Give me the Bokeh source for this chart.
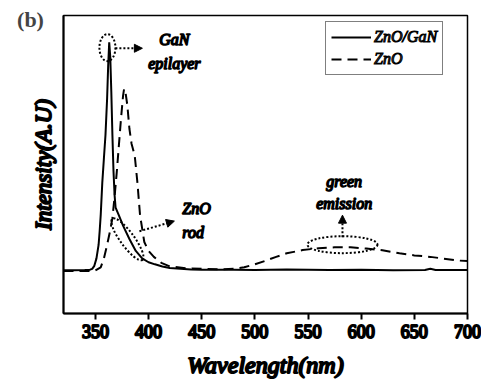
from bokeh.plotting import figure
from bokeh.models import (Range1d, FixedTicker, Legend, LegendItem, Label, Arrow,
                          NormalHead, ColumnDataSource)
from bokeh.core.properties import value
from bokeh.embed import file_html
from bokeh.resources import INLINE

# ---------------- data ----------------
zno_gan_wl = [320, 330, 340, 345, 347, 349, 351, 353, 354, 355, 356.5, 358, 359.5,
              361, 362, 363, 364, 365, 366, 367, 368, 369, 372, 376, 382, 388, 394,
              400, 406, 413, 420, 430, 440, 450, 480, 500, 530, 550, 570, 600, 630,
              660, 665, 670, 700]
zno_gan_int = [0.145, 0.145, 0.146, 0.147, 0.150, 0.160, 0.185, 0.23, 0.276, 0.33,
               0.44, 0.52, 0.60, 0.72, 0.83, 0.91, 0.86, 0.74, 0.60, 0.48, 0.40,
               0.355, 0.33, 0.295, 0.25, 0.21, 0.185, 0.172, 0.165, 0.158, 0.153,
               0.150, 0.148, 0.147, 0.147, 0.146, 0.148, 0.147, 0.146, 0.147, 0.145,
               0.146, 0.150, 0.146, 0.146]

zno_wl = [320, 330, 340, 345, 350, 355, 358, 361, 364, 366, 368, 370, 372, 374, 376,
          377, 378, 380, 382, 384, 387, 389.5, 392, 396, 400, 405, 412, 420, 435,
          450, 470, 480, 490, 500, 510, 520, 530, 545, 560, 575, 590, 605, 620, 636,
          650, 665, 676, 690, 700]
zno_int = [0.143, 0.143, 0.143, 0.143, 0.145, 0.155, 0.185, 0.23, 0.28, 0.32, 0.39,
           0.47, 0.56, 0.65, 0.73, 0.754, 0.75, 0.70, 0.62, 0.57, 0.53, 0.44, 0.33,
           0.24, 0.21, 0.19, 0.17, 0.158, 0.152, 0.150, 0.148, 0.150, 0.155, 0.165,
           0.177, 0.19, 0.202, 0.213, 0.219, 0.222, 0.222, 0.218, 0.212, 0.202,
           0.195, 0.19, 0.185, 0.178, 0.176]

x_ticks = [350, 400, 450, 500, 550, 600, 650, 700]
series_names = ["ZnO/GaN", "ZnO"]

ann_text = ["GaN", "epilayer", "ZnO", "rod", "green", "emission"]
ann_x = [424.3, 424.3, 431.8, 431.8, 584.0, 584.0]
ann_y = [0.919, 0.838, 0.354, 0.273, 0.444, 0.370]
ann_align = ["center", "center", "left", "left", "center", "center"]

ell_x = [361.3, 380.1, 582.4]
ell_y = [0.892, 0.249, 0.231]
ell_w = [16, 51, 70]
ell_h = [27, 14, 17]
ell_angle = [0.0, -0.94, 0.0]

arr_x0 = [368.8, 391.4, 582.4]
arr_y0 = [0.890, 0.276, 0.256]
arr_x1 = [394.2, 424.3, 582.4]
arr_y1 = [0.890, 0.310, 0.330]

ITAL = "Liberation Serif"   # serif face (italic / regular, thickened by outline)
BOLD = "serif"              # serif bold face


def try_set(obj, name, val):
    try:
        setattr(obj, name, val)
    except Exception:
        pass


p = figure(width=481, height=381, output_backend="svg", toolbar_location=None,
           x_range=Range1d(320, 700), y_range=Range1d(0, 1),
           min_border_left=61, min_border_right=14, min_border_top=15,
           min_border_bottom=68)
p.grid.visible = False
p.outline_line_color = "black"
p.outline_line_width = 1.5

r_solid = p.line(zno_gan_wl, zno_gan_int, line_color="black", line_width=2)
r_dash = p.line(zno_wl, zno_int, line_color="black", line_width=2,
                line_dash="10 6")

p.ellipse(x=ell_x, y=ell_y, width=ell_w, height=ell_h, angle=ell_angle,
          width_units="screen", height_units="screen",
          fill_color=None, line_color="black", line_width=2, line_dash="2 2")

for xs, ys, xe, ye in zip(arr_x0, arr_y0, arr_x1, arr_y1):
    p.add_layout(Arrow(x_start=xs, y_start=ys, x_end=xe, y_end=ye,
                       line_color="black", line_width=2, line_dash="2 2",
                       end=NormalHead(size=8, fill_color="black",
                                      line_color="black", line_width=1)))

src = ColumnDataSource(dict(x=ann_x, y=ann_y, t=ann_text, a=ann_align))
r_txt = p.text(x="x", y="y", text="t", text_align="a", text_baseline="middle",
               source=src, text_font=value(ITAL), text_font_style="italic",
               text_font_size="16px", text_color="black")
try_set(r_txt.glyph, "text_outline_color", "black")

p.xaxis.ticker = FixedTicker(ticks=x_ticks)
p.xaxis.minor_tick_line_color = None
p.xaxis.major_tick_out = 6
p.xaxis.major_tick_in = 0
p.xaxis.major_tick_line_width = 2
p.xaxis.axis_line_width = 2
p.xaxis.major_label_standoff = 5
p.xaxis.major_label_text_font = ITAL
p.xaxis.major_label_text_font_style = "normal"
p.xaxis.major_label_text_font_size = "18px"
p.xaxis.major_label_text_color = "black"
try_set(p.xaxis[0], "major_label_text_outline_color", "black")
p.xaxis.axis_label = "Wavelength(nm)"
p.xaxis.axis_label_text_font = ITAL
p.xaxis.axis_label_text_font_style = "italic"
p.xaxis.axis_label_text_font_size = "24px"
p.xaxis.axis_label_text_color = "black"
p.xaxis.axis_label_standoff = 11
try_set(p.xaxis[0], "axis_label_text_outline_color", "black")

p.yaxis.ticker = FixedTicker(ticks=[])
p.yaxis.major_tick_line_color = None
p.yaxis.major_tick_out = 0
p.yaxis.minor_tick_line_color = None
p.yaxis.major_label_text_font_size = "0px"
p.yaxis.major_label_standoff = 0
p.yaxis.axis_line_width = 2
p.yaxis.axis_label = "Intensity(A.U)"
p.yaxis.axis_label_text_font = ITAL
p.yaxis.axis_label_text_font_style = "italic"
p.yaxis.axis_label_text_font_size = "23px"
p.yaxis.axis_label_text_color = "black"
p.yaxis.axis_label_standoff = 8
try_set(p.yaxis[0], "axis_label_text_outline_color", "black")

legend = Legend(items=[LegendItem(label=series_names[0], renderers=[r_solid]),
                       LegendItem(label=series_names[1], renderers=[r_dash])],
                location=(262, 238))
legend.label_text_font = ITAL
legend.label_text_font_style = "italic"
legend.label_text_font_size = "16px"
legend.glyph_width = 40
legend.glyph_height = 20
legend.label_standoff = 3
legend.padding = 5
legend.spacing = 2
legend.border_line_color = "black"
legend.border_line_width = 1.5
try_set(legend, "label_text_outline_color", "black")
p.add_layout(legend)

p.add_layout(Label(x=30, y=294, x_units="screen", y_units="screen", text="(b)",
                   text_font=BOLD, text_font_style="bold", text_font_size="22px",
                   text_align="center", text_baseline="middle"), "left")

open("out.html", "w").write(file_html(p, INLINE))
